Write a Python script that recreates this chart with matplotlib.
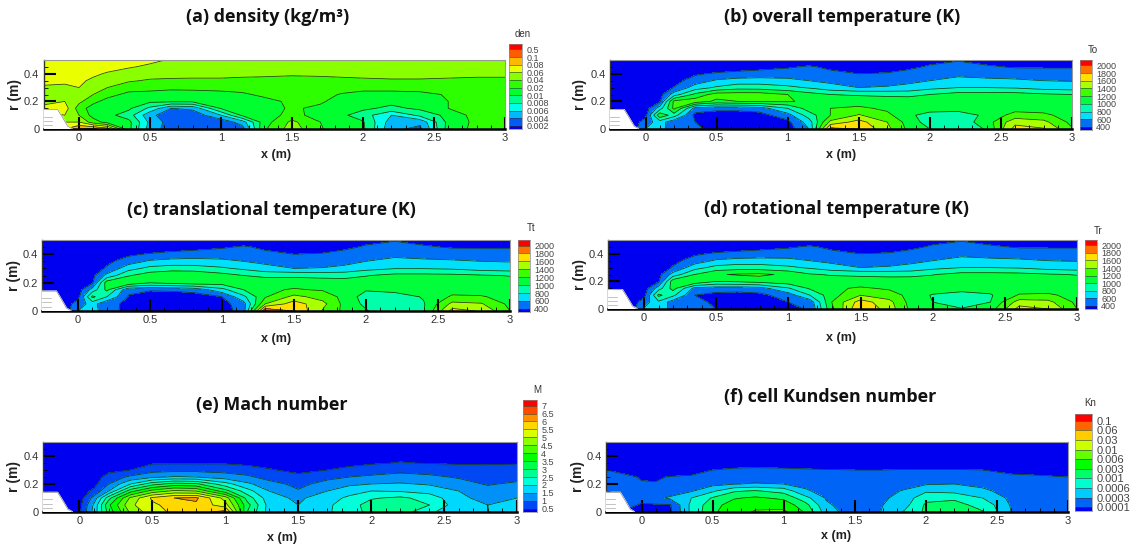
import matplotlib
matplotlib.use("Agg")
import numpy as np
import matplotlib.pyplot as plt
from matplotlib.colors import LinearSegmentedColormap

W, H = 1143, 550

# stations the fields were read at (rows below go from r=0.5 down to r=0)
x_st = [-0.25, -0.1, 0, 0.1, 0.2, 0.35, 0.5, 0.65, 0.8, 1.0, 1.15, 1.3, 1.5, 1.7, 1.85, 2.0, 2.2, 2.4, 2.6, 2.8, 3.0]
r_st = [0.5, 0.45, 0.4, 0.35, 0.3, 0.25, 0.2, 0.15, 0.1, 0.05, 0.0]

den = [
    [.07, .07, .07, .07, .07, .07, .065, .058, .055, .055, .055, .055, .055, .055, .055, .055, .055, .055, .055, .055, .055],
    [.07, .07, .07, .07, .07, .062, .056, .053, .052, .052, .052, .051, .05, .05, .05, .05, .05, .05, .05, .05, .05],
    [.07, .07, .07, .065, .057, .05, .047, .046, .045, .045, .044, .043, .042, .043, .044, .045, .046, .046, .045, .044, .044],
    [.07, .065, .065, .055, .048, .042, .038, .037, .037, .037, .036, .036, .035, .035, .036, .037, .038, .038, .037, .036, .036],
    [.055, .055, .06, .045, .04, .03, .028, .025, .026, .028, .03, .032, .033, .033, .031, .028, .028, .029, .03, .032, .033],
    [.05, .05, .05, .04, .028, .017, .016, .015, .015, .016, .018, .025, .028, .028, .019, .016, .016, .017, .022, .027, .03],
    [.05, .06, .045, .026, .016, .013, .012, .012, .012, .013, .014, .016, .025, .024, .014, .013, .013, .014, .02, .03, .03],
    [.07, .07, .03, .015, .014, .012, .0075, .004, .0045, .011, .013, .014, .024, .017, .013, .012, .0095, .012, .02, .03, .03],
    [.05, .06, .04, .016, .013, .009, .0045, .0028, .0025, .006, .012, .014, .028, .015, .012, .009, .006, .0085, .013, .028, .03],
    [.05, .06, .06, .03, .016, .013, .0055, .003, .0022, .0025, .005, .015, .045, .02, .013, .011, .005, .0045, .013, .025, .035],
    [.05, .08, .12, .2, .09, .013, .005, .003, .0021, .0022, .003, .018, .05, .022, .014, .012, .0045, .0035, .014, .026, .04],
]

t_overall = [
    [300, 300, 300, 300, 300, 300, 300, 300, 300, 300, 350, 300, 300, 300, 350, 430, 480, 420, 380, 370, 370],
    [300, 300, 300, 300, 300, 300, 300, 350, 400, 470, 520, 450, 400, 420, 450, 520, 560, 520, 480, 480, 480],
    [300, 300, 300, 300, 300, 460, 530, 560, 580, 590, 600, 540, 500, 510, 550, 600, 640, 600, 580, 570, 570],
    [300, 300, 300, 300, 400, 590, 730, 780, 790, 760, 700, 650, 620, 620, 660, 700, 780, 760, 740, 700, 690],
    [300, 300, 300, 300, 510, 800, 930, 1020, 1010, 950, 880, 780, 700, 720, 750, 840, 900, 900, 880, 820, 800],
    [300, 300, 300, 380, 800, 1150, 1400, 1400, 1400, 1300, 1180, 1100, 1080, 1060, 1050, 1100, 1180, 1180, 1180, 1130, 1100],
    [300, 300, 300, 450, 1350, 1420, 1250, 1300, 1320, 1320, 1260, 1250, 1200, 1200, 1200, 1200, 1220, 1250, 1240, 1220, 1200],
    [300, 300, 350, 800, 1350, 620, 560, 560, 600, 900, 1200, 1300, 1340, 1260, 1230, 1220, 1200, 1200, 1220, 1200, 1200],
    [300, 300, 400, 1250, 1000, 400, 350, 350, 380, 620, 1000, 1300, 1520, 1350, 1150, 1000, 980, 1150, 1380, 1350, 1200],
    [300, 300, 600, 800, 560, 500, 350, 340, 340, 420, 800, 1560, 1780, 1500, 1220, 1000, 980, 1200, 1640, 1560, 1240],
    [300, 300, 700, 800, 560, 540, 400, 340, 340, 340, 700, 1950, 1900, 1560, 1250, 1100, 950, 1120, 1780, 1720, 1320],
]

t_trans = [
    [300, 300, 300, 300, 300, 300, 300, 300, 300, 300, 350, 300, 300, 300, 350, 430, 480, 420, 380, 370, 370],
    [300, 300, 300, 300, 300, 300, 300, 350, 400, 470, 520, 450, 400, 420, 450, 520, 560, 520, 480, 480, 480],
    [300, 300, 300, 300, 300, 440, 520, 560, 580, 590, 610, 540, 500, 510, 550, 600, 640, 600, 580, 570, 570],
    [300, 300, 300, 300, 420, 600, 730, 770, 780, 750, 700, 650, 610, 620, 650, 700, 770, 750, 730, 700, 690],
    [300, 300, 300, 320, 530, 820, 960, 1000, 990, 930, 860, 770, 700, 710, 740, 830, 890, 890, 870, 810, 790],
    [300, 300, 300, 420, 760, 1080, 1220, 1280, 1280, 1180, 1100, 1050, 1060, 1040, 1040, 1090, 1160, 1160, 1150, 1120, 1090],
    [300, 300, 300, 450, 1200, 1290, 1120, 1180, 1230, 1200, 1200, 1230, 1210, 1200, 1180, 1190, 1210, 1220, 1230, 1200, 1180],
    [300, 300, 340, 780, 1150, 540, 520, 530, 560, 830, 1100, 1260, 1320, 1280, 1220, 1120, 1180, 1230, 1220, 1200, 1180],
    [300, 300, 400, 1150, 900, 480, 360, 350, 370, 500, 850, 1280, 1560, 1420, 1240, 1000, 980, 1120, 1330, 1320, 1220],
    [300, 300, 600, 780, 540, 460, 350, 340, 340, 380, 620, 1500, 1800, 1560, 1240, 1050, 960, 1080, 1560, 1520, 1250],
    [300, 300, 700, 800, 560, 430, 350, 340, 340, 340, 600, 2060, 1900, 1480, 1250, 1120, 920, 1080, 1780, 1680, 1300],
]

t_rot = [
    [300, 300, 300, 300, 300, 300, 300, 300, 300, 300, 350, 300, 300, 300, 350, 430, 480, 420, 380, 370, 370],
    [300, 300, 300, 300, 300, 300, 300, 350, 400, 470, 520, 450, 400, 420, 450, 520, 560, 520, 480, 480, 480],
    [300, 300, 300, 300, 300, 450, 530, 560, 580, 590, 600, 540, 500, 510, 550, 600, 640, 600, 580, 570, 570],
    [300, 300, 300, 300, 410, 590, 730, 770, 780, 760, 700, 650, 620, 620, 660, 700, 780, 760, 740, 700, 690],
    [300, 300, 300, 310, 520, 820, 970, 1010, 1000, 940, 870, 780, 700, 720, 750, 840, 900, 900, 880, 820, 790],
    [300, 300, 300, 400, 780, 1100, 1280, 1320, 1340, 1260, 1120, 1080, 1070, 1050, 1050, 1090, 1170, 1170, 1160, 1120, 1090],
    [300, 300, 300, 450, 1220, 1300, 1100, 1130, 1180, 1230, 1230, 1210, 1180, 1190, 1200, 1200, 1220, 1240, 1230, 1200, 1180],
    [300, 300, 340, 800, 1180, 640, 600, 590, 620, 880, 1130, 1260, 1330, 1270, 1240, 1220, 1200, 1180, 1200, 1190, 1180],
    [300, 300, 400, 1150, 950, 500, 400, 380, 420, 600, 900, 1220, 1500, 1400, 1230, 1080, 1000, 1080, 1320, 1340, 1220],
    [300, 300, 600, 860, 600, 540, 460, 450, 480, 500, 580, 1300, 1800, 1560, 1220, 1100, 950, 1100, 1600, 1560, 1250],
    [300, 300, 720, 880, 600, 540, 500, 480, 440, 430, 520, 1250, 1900, 1600, 1250, 1180, 1120, 1200, 1780, 1700, 1300],
]

mach = [
    [.2, .2, .2, .2, .2, .2, .2, .2, .2, .2, .2, .2, .2, .2, .2, .2, .2, .2, .2, .2, .2],
    [.2, .2, .2, .2, .2, .2, .2, .2, .2, .2, .2, .2, .2, .2, .2, .2, .25, .2, .2, .2, .2],
    [.2, .2, .2, .2, .2, .25, .3, .3, .3, .3, .3, .25, .2, .25, .3, .35, .4, .35, .3, .3, .3],
    [.2, .2, .2, .2, .2, .4, .45, .45, .45, .45, .4, .3, .25, .3, .4, .45, .52, .48, .45, .45, .48],
    [.2, .2, .2, .2, .35, .5, .8, .85, .85, .82, .7, .55, .35, .5, .6, .72, .85, .8, .7, .65, .62],
    [.2, .2, .2, .25, .7, 1.1, 1.4, 1.55, 1.5, 1.25, 1.1, .8, .65, .85, 1, 1.1, 1.2, 1.1, .95, .8, .8],
    [.2, .2, .2, .35, 1.0, 2.0, 2.8, 3.2, 3.1, 2.2, 1.6, 1.2, .85, 1.2, 1.4, 1.5, 1.55, 1.45, 1.2, .95, 1.1],
    [.2, .2, .25, .6, 1.5, 3.3, 4.2, 4.6, 4.5, 3.2, 2.2, 1.5, 1.05, 1.5, 1.8, 2.0, 1.95, 1.8, 1.5, 1.2, 1.3],
    [.2, .2, .25, 1.2, 2.8, 4.6, 5.6, 6.0, 6.1, 4.8, 2.8, 1.7, 1.4, 1.8, 2.1, 2.45, 2.6, 2.3, 1.6, 1.35, 1.5],
    [.2, .2, .3, 1.6, 3.4, 4.9, 5.4, 5.7, 5.9, 5.2, 3.2, 1.8, 1.5, 1.9, 2.3, 2.7, 2.8, 2.5, 1.7, 1.5, 1.55],
    [.2, .2, .4, 1.7, 3.2, 4.6, 5.3, 5.6, 5.8, 6.2, 3.0, 1.8, 1.55, 1.95, 2.2, 2.7, 2.75, 2.1, 1.6, 1.5, 1.55],
]

knudsen = [
    [.00002] * 21,
    [.00002] * 21,
    [.00002] * 21,
    [.00002, .00002, .00002, .00002, .00002, .00003, .00005, .00006, .00006, .00006, .00005, .00005, .00004, .00004, .00005, .00005, .00005, .00004, .00004, .00004, .00003],
    [.0001, .00006, .00005, .00005, .00005, .00007, .0001, .00013, .00014, .00013, .00012, .00011, .0001, .0001, .00011, .00011, .00011, .0001, .00008, .00007, .00006],
    [.00015, .00014, .00009, .00009, .00011, .00012, .00014, .00017, .00018, .00017, .00016, .00015, .00015, .00015, .00015, .00015, .00016, .00014, .00013, .00012, .0001],
    [.0003, .00025, .00012, .00011, .00012, .00016, .00024, .00029, .00033, .0003, .00024, .00019, .00017, .00017, .00022, .00028, .0003, .00025, .00018, .00015, .00012],
    [.0003, .00025, .00015, .00014, .00018, .00028, .00055, .00095, .0012, .00085, .00035, .00022, .00019, .00023, .00033, .00055, .0005, .00036, .00022, .00018, .00015],
    [.0002, .00018, .00016, .00025, .00035, .0006, .0012, .0028, .0035, .0026, .00075, .00028, .00018, .00027, .00042, .0009, .00095, .0006, .00025, .00018, .00016],
    [.0002, .00015, .00009, .00009, .00009, .0007, .0022, .0045, .0056, .0048, .0018, .00035, .00018, .0003, .0005, .0013, .0015, .0009, .00028, .00018, .00016],
    [.0002, .00008, .00006, .00006, .00008, .0007, .0025, .0055, .0062, .007, .0028, .00045, .00018, .00032, .00065, .0014, .0016, .0011, .0003, .00018, .00016],
]

# band edges of the filled contours, and the legend text
den_edges = [0, .002, .004, .006, .008, .01, .02, .04, .06, .08, .1, .5, 1]
den_labels = ["0.002", "0.004", "0.006", "0.008", "0.01", "0.02", "0.04", "0.06", "0.08", "0.1", "0.5"]
temp_edges = [200, 500, 700, 900, 1100, 1300, 1500, 1700, 1900, 2050, 2300]
temp_labels = ["400", "600", "800", "1000", "1200", "1400", "1600", "1800", "2000"]
mach_edges = [0, .5, 1, 1.5, 2, 2.5, 3, 3.5, 4, 4.5, 5, 5.5, 6, 6.5, 7, 8]
mach_labels = ["0.5", "1", "1.5", "2", "2.5", "3", "3.5", "4", "4.5", "5", "5.5", "6", "6.5", "7"]
kn_edges = [0, .0001, .0003, .0006, .001, .003, .006, .01, .03, .06, .1, 1]
kn_labels = ["0.0001", "0.0003", "0.0006", "0.001", "0.003", "0.006", "0.01", "0.03", "0.06", "0.1"]

nozzle_x = [-0.25, -0.25, -0.15, -0.12, -0.08, -0.05, -0.05]
nozzle_r = [0, 0.14, 0.14, 0.09, 0.02, 0.002, 0]

# title, field, edges, labels, legend name, then pixel layout
panels = [
    ("(a) density (kg/m³)", den, den_edges, den_labels, "den",
     dict(ax=(43.5, 505, 60, 129), leg=(509, 522, 44, 129), title=(268, 17), xl=(276, 155), rl=15, name_y=34, font=6.5)),
    ("(b) overall temperature (K)", t_overall, temp_edges, temp_labels, "To",
     dict(ax=(610, 1072, 60, 129), leg=(1080, 1092, 60, 130), title=(842, 17), xl=(841, 155), rl=580, name_y=50, font=6.5)),
    ("(c) translational temperature (K)", t_trans, temp_edges, temp_labels, "Tt",
     dict(ax=(42, 510, 240, 311), leg=(518, 530, 240, 312), title=(271, 210), xl=(276, 339), rl=14, name_y=228, font=6.5)),
    ("(d) rotational temperature (K)", t_rot, temp_edges, temp_labels, "Tr",
     dict(ax=(608, 1077, 240, 309), leg=(1085, 1097, 240, 309), title=(836, 209), xl=(841, 338), rl=580, name_y=231, font=6.5)),
    ("(e) Mach number", mach, mach_edges, mach_labels, "M",
     dict(ax=(43, 517, 442, 512), leg=(523, 537, 400, 512), title=(272, 405), xl=(282, 538), rl=14, name_y=390, font=6.5)),
    ("(f) cell Kundsen number", knudsen, kn_edges, kn_labels, "Kn",
     dict(ax=(606, 1068, 442, 512), leg=(1075, 1092, 414, 511), title=(830, 397), xl=(836, 536), rl=578, name_y=403, font=8)),
]

bands = LinearSegmentedColormap.from_list(
    "tecplot", ["#0000f0", "#00ffff", "#00ff00", "#ffff00", "#ff0000"])


def px_axes(fig, left, right, top, bottom):
    return fig.add_axes([left / W, 1 - bottom / H, (right - left) / W, (bottom - top) / H])


plt.rcParams["font.family"] = ["Liberation Sans", "DejaVu Sans"]
fig = plt.figure(figsize=(W / 100, H / 100), dpi=100)

X, R = np.meshgrid(x_st, r_st)

for title, field, edges, labels, name, pos in panels:
    n = len(edges) - 1
    colors = [bands(i / (n - 1)) for i in range(n)]
    # band coordinates so uneven edges still contour evenly
    z = np.interp(np.array(field, dtype=float), edges, np.arange(n + 1))

    ax = px_axes(fig, *pos["ax"])
    ax.contourf(X, R, z, levels=np.arange(n + 1), colors=colors)
    ax.contour(X, R, z, levels=np.arange(1, n), colors="#1a3a1a", linewidths=0.55)
    ax.fill(nozzle_x, nozzle_r, color="white", zorder=3)
    ax.plot(nozzle_x[1:6], nozzle_r[1:6], color="#888888", lw=0.5, zorder=3)
    for rr in [0.03, 0.06, 0.09]:
        ax.plot([-0.25, -0.19], [rr, rr], color="#aaaaaa", lw=0.5, zorder=3)

    ax.set_xlim(-0.25, 3)
    ax.set_ylim(0, 0.5)
    ax.set_xticks([0, 0.5, 1, 1.5, 2, 2.5, 3], ["0", "0.5", "1", "1.5", "2", "2.5", "3"])
    ax.set_yticks([0, 0.2, 0.4], ["0", "0.2", "0.4"])
    ax.set_xticks(np.arange(-0.2, 3.01, 0.1), minor=True)
    ax.set_yticks(np.arange(0, 0.51, 0.05), minor=True)
    ax.tick_params(which="major", direction="in", length=8.5, width=1.5, color="black",
                   labelsize=8, labelcolor="#333333", pad=3, zorder=5)
    ax.tick_params(which="minor", direction="in", length=3, width=0.6, color="black")
    for s in ["top", "right"]:
        ax.spines[s].set_color("#999999")
        ax.spines[s].set_linewidth(0.8)
    ax.spines["left"].set_color("#333333")
    ax.spines["left"].set_linewidth(1.0)
    ax.spines["bottom"].set_linewidth(1.8)

    leg = px_axes(fig, *pos["leg"])
    leg.pcolormesh([0, 1], np.arange(n + 1), np.arange(n).reshape(-1, 1),
                   cmap=LinearSegmentedColormap.from_list("b", colors, N=n), shading="flat")
    leg.hlines(np.arange(1, n), 0, 1, color="#333333", lw=0.4)
    leg.set_xlim(0, 1)
    leg.set_ylim(0.6, len(labels) + 0.7)
    leg.set_xticks([])
    leg.yaxis.tick_right()
    leg.set_yticks(np.arange(1, len(labels) + 1), labels)
    leg.tick_params(length=0, labelsize=pos["font"], labelcolor="#444444", pad=3)
    for s in leg.spines.values():
        s.set_color("#888888")
        s.set_linewidth(0.5)

    fig.text((pos["leg"][0] + pos["leg"][1]) / 2 / W + 0.006, 1 - pos["name_y"] / H, name,
             fontsize=7, ha="center", va="center", color="#333333")
    fig.text(pos["title"][0] / W, 1 - pos["title"][1] / H, title, family="Open Sans",
             fontsize=12.9, fontweight="bold", ha="center", va="center", color="#111111")
    fig.text(pos["xl"][0] / W, 1 - pos["xl"][1] / H, "x (m)", fontsize=9, fontweight="bold",
             ha="center", va="center", color="#222222")
    fig.text(pos["rl"] / W, 1 - (pos["ax"][2] + pos["ax"][3]) / 2 / H, "r (m)", fontsize=10,
             fontweight="bold", rotation=90, ha="center", va="center", color="#222222")

fig.savefig("out.png", dpi=100)
